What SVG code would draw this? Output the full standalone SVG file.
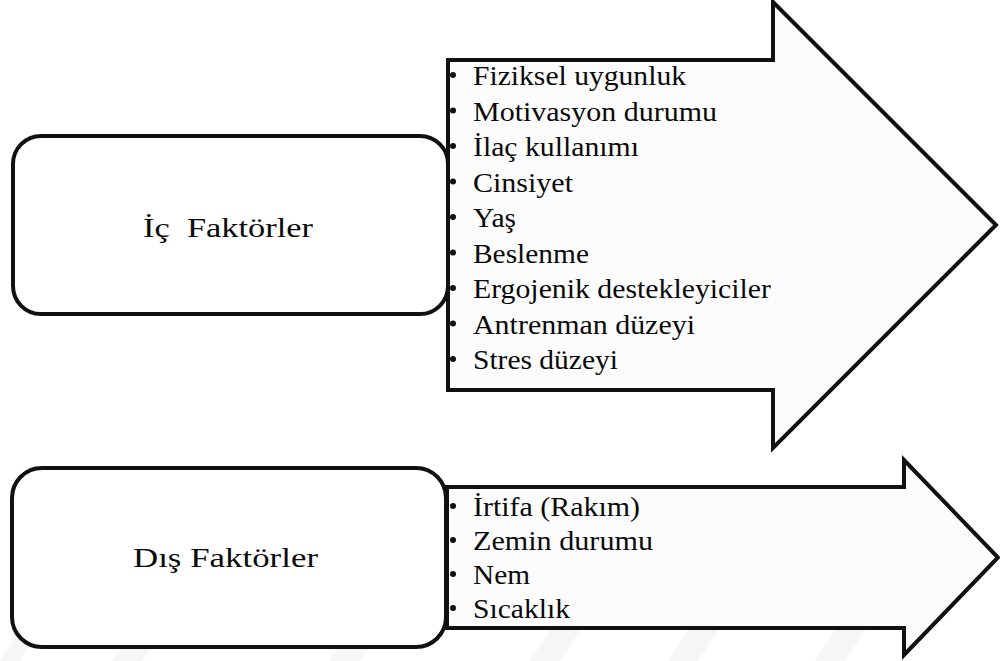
<svg xmlns="http://www.w3.org/2000/svg" width="1000" height="661" viewBox="0 0 1000 661">
  <style>
    .box { fill: #ffffff; stroke: #111111; stroke-width: 4; }
    .arrow { fill: #fcfcfc; stroke: #111111; stroke-width: 4; stroke-linejoin: miter; stroke-miterlimit: 10; }
    .dot { fill: #111111; }
    .band { fill: #f6f6f6; }
    text { font-family: "Liberation Serif", "Times New Roman", serif; fill: #0a0a0a; }
  </style>

  <rect width="1000" height="661" fill="#ffffff"/>

  <!-- faint slanted bands along the lower edge -->
  <g id="bands">
    <polygon class="band" points="0,661 20,661 48,618 28,618"/>
    <polygon class="band" points="112,661 142,661 170,618 140,618"/>
    <polygon class="band" points="330,661 360,661 388,618 358,618"/>
    <polygon class="band" points="530,661 560,661 588,618 558,618"/>
    <polygon class="band" points="668,661 698,661 726,618 696,618"/>
    <polygon class="band" points="815,661 845,661 873,618 843,618"/>
  </g>

  <!-- block arrows carrying the factor lists -->
  <g id="connectors">
    <path id="arrow-ic" class="arrow" d="M448,60 H773 V2 L996,225 L773,448 V390 H448 Z"/>
    <path id="arrow-dis" class="arrow" d="M447,487 H904 V460 L998,557.5 L904,655 V628 H447 Z"/>
  </g>

  <g id="node-ic" font-size="28">
    <rect class="box" x="13" y="136" width="435" height="178" rx="28" ry="28"/>
    <text x="143" y="237" textLength="170" lengthAdjust="spacingAndGlyphs">İç&#160; Faktörler</text>
  </g>

  <g id="node-dis" font-size="28">
    <rect class="box" x="12" y="468" width="434" height="179" rx="30" ry="30"/>
    <text x="133" y="567" textLength="185" lengthAdjust="spacingAndGlyphs">Dış Faktörler</text>
  </g>

  <g id="list-ic" font-size="27">
    <circle class="dot" cx="453" cy="75" r="3"/>
    <text x="473" y="85" textLength="213" lengthAdjust="spacingAndGlyphs">Fiziksel uygunluk</text>
    <circle class="dot" cx="453" cy="110.5" r="3"/>
    <text x="473" y="120.5" textLength="244" lengthAdjust="spacingAndGlyphs">Motivasyon durumu</text>
    <circle class="dot" cx="453" cy="146" r="3"/>
    <text x="473" y="156" textLength="166" lengthAdjust="spacingAndGlyphs">İlaç kullanımı</text>
    <circle class="dot" cx="453" cy="181.5" r="3"/>
    <text x="473" y="191.5" textLength="100" lengthAdjust="spacingAndGlyphs">Cinsiyet</text>
    <circle class="dot" cx="453" cy="217" r="3"/>
    <text x="473" y="227" textLength="43" lengthAdjust="spacingAndGlyphs">Yaş</text>
    <circle class="dot" cx="453" cy="252.5" r="3"/>
    <text x="473" y="262.5" textLength="116" lengthAdjust="spacingAndGlyphs">Beslenme</text>
    <circle class="dot" cx="453" cy="288" r="3"/>
    <text x="473" y="298" textLength="298" lengthAdjust="spacingAndGlyphs">Ergojenik destekleyiciler</text>
    <circle class="dot" cx="453" cy="323.5" r="3"/>
    <text x="473" y="333.5" textLength="222" lengthAdjust="spacingAndGlyphs">Antrenman düzeyi</text>
    <circle class="dot" cx="453" cy="359" r="3"/>
    <text x="473" y="369" textLength="145" lengthAdjust="spacingAndGlyphs">Stres düzeyi</text>
  </g>

  <g id="list-dis" font-size="27">
    <circle class="dot" cx="453" cy="506" r="3"/>
    <text x="473" y="516" textLength="167" lengthAdjust="spacingAndGlyphs">İrtifa (Rakım)</text>
    <circle class="dot" cx="453" cy="540" r="3"/>
    <text x="473" y="550" textLength="180" lengthAdjust="spacingAndGlyphs">Zemin durumu</text>
    <circle class="dot" cx="453" cy="574" r="3"/>
    <text x="473" y="584" textLength="57" lengthAdjust="spacingAndGlyphs">Nem</text>
    <circle class="dot" cx="453" cy="608" r="3"/>
    <text x="473" y="618" textLength="97" lengthAdjust="spacingAndGlyphs">Sıcaklık</text>
  </g>
</svg>
